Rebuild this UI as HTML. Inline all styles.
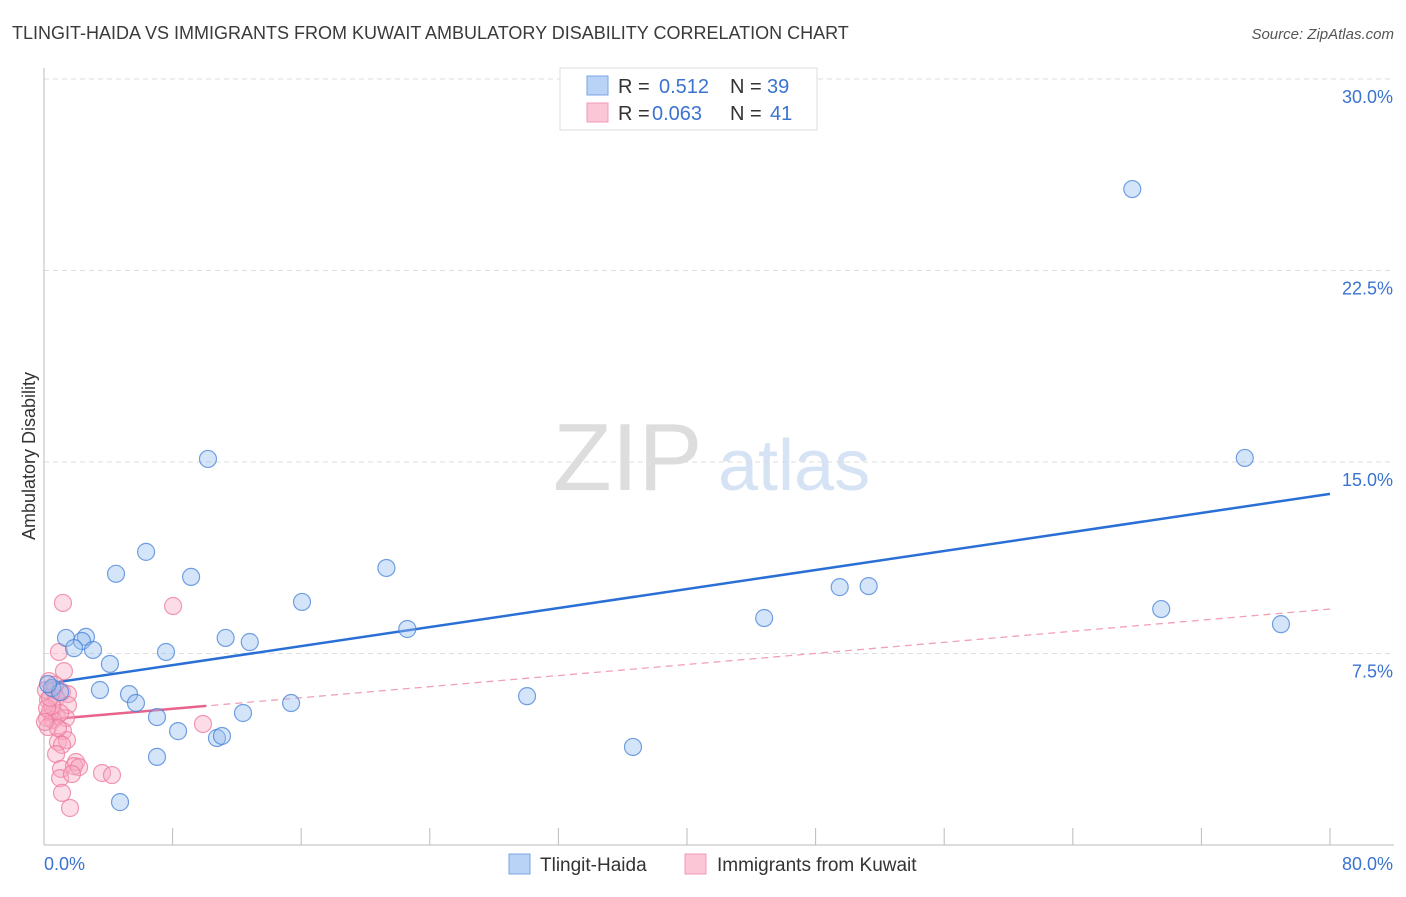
<!DOCTYPE html>
<html><head><meta charset="utf-8"><style>
body{margin:0;background:#fff;font-family:"Liberation Sans",sans-serif}
svg text{font-family:"Liberation Sans",sans-serif}
</style></head><body>
<svg id="chart" width="1406" height="892" xmlns="http://www.w3.org/2000/svg">
<text x="12" y="39" font-size="18" fill="#3a3a3a">TLINGIT-HAIDA VS IMMIGRANTS FROM KUWAIT AMBULATORY DISABILITY CORRELATION CHART</text>
<text x="1394" y="39" font-size="15" fill="#555" text-anchor="end" font-style="italic">Source: ZipAtlas.com</text>
<g>
<text x="553" y="490" font-size="96" fill="#ddd" font-family="Liberation Serif,serif">ZIP</text>
<text x="718" y="490" font-size="72" fill="#d5e3f5">atlas</text>
</g>
<text transform="translate(35,456) rotate(-90)" font-size="18" fill="#333" text-anchor="middle">Ambulatory Disability</text>
<g id="grid"></g><g id="axes"></g><g id="trends"></g><g id="points"></g>
<g>
<rect x="560" y="68" width="257" height="62" fill="#fff" stroke="#ddd"/>
<rect x="587" y="76" width="21" height="19" fill="#b9d3f6" stroke="#7aa6e6"/>
<text x="618" y="93" font-size="20" fill="#333">R = </text><text x="659" y="93" font-size="20" fill="#3b73d0">0.512</text>
<text x="730" y="93" font-size="20" fill="#333">N = </text><text x="767" y="93" font-size="20" fill="#3b73d0">39</text>
<rect x="587" y="103" width="21" height="19" fill="#fbc6d6" stroke="#f29ab5"/>
<text x="618" y="120" font-size="20" fill="#333">R = </text><text x="652" y="120" font-size="20" fill="#3b73d0">0.063</text>
<text x="730" y="120" font-size="20" fill="#333">N = </text><text x="770" y="120" font-size="20" fill="#3b73d0">41</text>
</g>
<g>
<rect x="509" y="854" width="21" height="20" fill="#b9d3f6" stroke="#7aa6e6"/>
<text x="540" y="871" font-size="19" fill="#333">Tlingit-Haida</text>
<rect x="685" y="854" width="21" height="20" fill="#fbc6d6" stroke="#f29ab5"/>
<text x="717" y="871" font-size="19" fill="#333">Immigrants from Kuwait</text>
</g>
</svg>
<script>
const blueX=[67.7,74.7,10.2,6.35,4.48,9.15,21.3,49.5,51.3,16.05,69.5,44.8,22.6,76.95,1.37,2.61,2.36,1.87,3.05,11.3,12.8,7.59,4.1,3.48,5.29,5.72,0.5,1.0,15.37,30.05,7.03,12.38,8.34,10.76,11.07,7.03,36.64,4.73,0.25];
const blueY=[25.69,15.16,15.12,11.48,10.62,10.5,10.85,10.1,10.14,9.52,9.24,8.89,8.46,8.65,8.11,8.15,7.99,7.71,7.64,8.11,7.95,7.56,7.09,6.07,5.91,5.56,6.15,5.99,5.56,5.83,5.01,5.17,4.46,4.19,4.27,3.45,3.84,1.68,6.3];
const pinkX=[1.18,8.03,0.93,1.24,0.31,0.62,1.12,1.49,0.25,0.75,1.49,0.37,0.81,1.37,0.19,0.56,1.0,0.25,1.18,0.87,1.43,1.12,0.75,1.99,1.06,1.87,2.18,1.0,1.74,3.61,4.23,1.12,1.62,9.89,0.12,0.5,0.19,0.68,0.87,0.06,0.37];
const pinkY=[9.48,9.36,7.56,6.81,6.42,6.07,5.99,5.91,5.68,5.76,5.48,5.21,5.05,4.97,4.97,4.9,5.17,4.62,4.46,4.03,4.11,3.92,3.56,3.25,2.98,3.09,3.05,2.62,2.78,2.82,2.74,2.04,1.45,4.74,6.07,5.44,5.36,6.27,4.58,4.82,5.76];
const blueTrend=[6.3,13.75];
const pinkTrend=[4.9,9.24];
const pinkSolidEnd=10.1;
const yTicks=[7.5,15,22.5,30];
const yTickLabels=["7.5%","15.0%","22.5%","30.0%"];
const xTicks=[0,8,16,24,32,40,48,56,64,72,80];
const NS="http://www.w3.org/2000/svg";
const X=v=>44+v/80*1286;
const Y=v=>845-v/7.5*191.5;
function mk(tag,parent,attrs){const e=document.createElementNS(NS,tag);for(const k in attrs)e.setAttribute(k,attrs[k]);document.getElementById(parent).appendChild(e);return e;}
yTicks.forEach((t,i)=>{
 const l=mk('line','grid',{x1:44,x2:1394,y1:Y(t),y2:Y(t),stroke:'#ddd','stroke-dasharray':'5,4'});
 
 
 const tx=mk('text','grid',{x:1393,y:Y(t)+24,'font-size':18,fill:'#3b73d0','text-anchor':'end'});
 tx.textContent=yTickLabels[i];
 
 
});
const ax=mk('line','axes',{x1:44,x2:44,y1:68,y2:845,stroke:'#bbb'});


const bx=mk('line','axes',{x1:44,x2:1394,y1:845,y2:845,stroke:'#bbb'});


xTicks.forEach(t=>{
 const l=mk('line','axes',{x1:X(t),x2:X(t),y1:828,y2:845,stroke:'#bbb'});
 
 
});
const x0=mk('text','axes',{x:44,y:870,'font-size':18,fill:'#3b73d0'});x0.textContent='0.0%';


const x1=mk('text','axes',{x:1393,y:870,'font-size':18,fill:'#3b73d0','text-anchor':'end'});x1.textContent='80.0%';


// trends
const pd=mk('line','trends',{x1:X(0),y1:Y(pinkTrend[0]),x2:X(80),y2:Y(pinkTrend[1]),stroke:'#f0a0b8','stroke-dasharray':'7,5','stroke-width':1.3});


const pEnd=pinkTrend[0]+(pinkTrend[1]-pinkTrend[0])*pinkSolidEnd/80;
const ps=mk('line','trends',{x1:X(0),y1:Y(pinkTrend[0]),x2:X(pinkSolidEnd),y2:Y(pEnd),stroke:'#e8638c','stroke-width':2.5});


const bl=mk('line','trends',{x1:X(0),y1:Y(blueTrend[0]),x2:X(80),y2:Y(blueTrend[1]),stroke:'#2a6fd6','stroke-width':2.5});


pinkX.forEach((v,i)=>{
 const c=mk('circle','points',{cx:X(v),cy:Y(pinkY[i]),r:8.5,fill:'rgba(248,170,195,0.4)',stroke:'rgba(236,120,155,0.75)','stroke-width':1.2});
 
 
});
blueX.forEach((v,i)=>{
 const c=mk('circle','points',{cx:X(v),cy:Y(blueY[i]),r:8.5,fill:'rgba(150,190,240,0.4)',stroke:'rgba(70,130,215,0.75)','stroke-width':1.2});
 
 
});
</script>
</body></html>
